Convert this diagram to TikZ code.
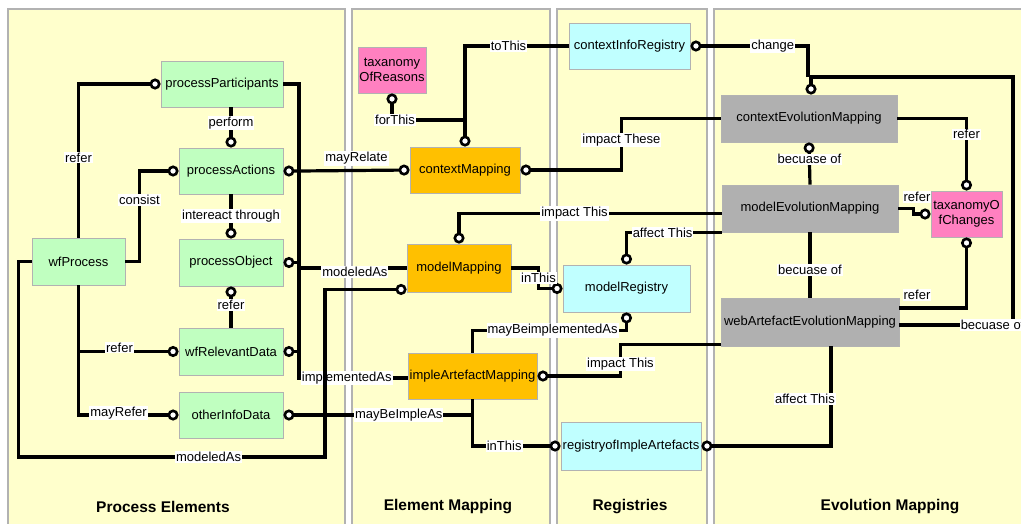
\documentclass[tikz,border=0pt]{standalone}
\usepackage{fontspec}
\setmainfont{Liberation Sans}
\usetikzlibrary{arrows.meta}
\definecolor{panelfill}{RGB}{255,255,204}
\definecolor{procgreen}{RGB}{192,255,192}
\definecolor{maporange}{RGB}{255,192,0}
\definecolor{regcyan}{RGB}{192,255,255}
\definecolor{evogrey}{RGB}{176,176,176}
\definecolor{taxpink}{RGB}{255,128,192}
\begin{document}
\begin{tikzpicture}[x=1pt, y=-1pt, line width=3.2pt,
  ball/.tip={Circle[fill=white,length=11pt,width=11pt,line width=2.6pt]},
  box/.style={draw=black!30, line width=0.9pt, inner sep=0pt, align=center, font=\fontsize{13}{15}\selectfont},
  proc node/.style={box, fill=procgreen, minimum height=46pt},
  map node/.style={box, fill=maporange, minimum height=46pt},
  reg node/.style={box, fill=regcyan, minimum height=47pt},
  evo node/.style={box, fill=evogrey, minimum height=47pt},
  tax node/.style={box, fill=taxpink, minimum height=46pt},
  lbl/.style={fill=white, inner sep=1pt, line width=0pt, font=\fontsize{13}{15}\selectfont},
  panel/.style={draw=black!30, fill=panelfill, line width=1.2pt},
  title/.style={font=\fontsize{15.5}{18}\selectfont\bfseries}]
\useasboundingbox (0,0) rectangle (1021,523);
\clip (0,0) rectangle (1021,523);
% swim lanes
\draw [panel] (8,9) rectangle (345,540);
\draw [panel] (352,9) rectangle (550,540);
\draw [panel] (557,9) rectangle (707,540);
\draw [panel] (714,9) rectangle (1040,540);
\node [title] (tProc) at (163,507) {Process Elements};
\node [title] (tMap) at (448,507) {Element Mapping};
\node [title] (tReg) at (630,507) {Registries};
\node [title] (tEvo) at (890,507) {Evolution Mapping};

% process elements
\node [proc node, minimum width=122pt] (ppart) at (222,84) {processParticipants};
\node [proc node, minimum width=104pt] (pact) at (231,171) {processActions};
\node [proc node, minimum width=104pt, minimum height=47pt] (pobj) at (231,262.5) {processObject};
\node [proc node, minimum width=93pt, minimum height=47pt] (wfproc) at (78.5,261.5) {wfProcess};
\node [proc node, minimum width=104pt, minimum height=47pt] (wfrel) at (231,351.5) {wfRelevantData};
\node [proc node, minimum width=104pt] (other) at (231,415) {otherInfoData};

% element mapping
\node [tax node, minimum width=68pt] (taxr) at (392,70) {taxanomy\\OfReasons};
\node [map node, minimum width=110pt] (cmap) at (465,170) {contextMapping};
\node [map node, minimum width=104pt, minimum height=48pt] (mmap) at (459,268) {modelMapping};
\node [map node, minimum width=129pt] (impl) at (472.5,376) {impleArtefactMapping};

% registries
\node [reg node, minimum width=121pt, minimum height=46pt] (creg) at (629.5,46) {contextInfoRegistry};
\node [reg node, minimum width=127pt] (mreg) at (626.5,288.5) {modelRegistry};
\node [reg node, minimum width=140pt, minimum height=48pt] (rimpl) at (631,446) {registryofImpleArtefacts};

% evolution mapping
\node [evo node, minimum width=176pt] (cevo) at (809,118.5) {contextEvolutionMapping};
\node [evo node, minimum width=176pt] (mevo) at (810,208.5) {modelEvolutionMapping};
\node [tax node, minimum width=71pt] (taxc) at (966.5,214) {taxanomyO\\fChanges};
\node [evo node, minimum width=178pt, minimum height=48pt] (webevo) at (810,322) {webArtefactEvolutionMapping};

\coordinate (bus) at (299,378);
\coordinate (forjoin) at (465,120);
\coordinate (loopcorner) at (325,457);
\coordinate (evoloop) at (1013,77);
\coordinate (evoloopl) at (811,77);

% process elements links
\draw [-ball] (wfproc.north) |- node [lbl, pos=0.26] {refer} (ppart.west);
\draw [-ball] (wfproc.east) -- ++(14,0) |- node [lbl, pos=0.34] {consist} (pact.west);
\draw [-ball] (ppart.south -| pact.north) -- node [lbl, pos=0.39] {perform} (pact.north);
\draw [-ball] (pact.south) -- node [lbl, pos=0.49] {intereact through} (pobj.north);
\draw [-ball] (wfrel.north) -- node [lbl, pos=0.55] {refer} (pobj.south);
\draw [-ball] (wfproc.south) |- node [lbl, pos=0.705, yshift=4pt] {refer} (wfrel.west);
\draw [-ball] (wfproc.south) |- node [lbl, pos=0.7, yshift=2pt] {mayRefer} (other.west);

% bus to the mappings
\draw (ppart.east) -| (bus) -- node [lbl, pos=0.44] {implementedAs} (bus -| impl.west);
\draw [ball-ball] (pact.east) -- (pact.east -| bus) -- node [lbl, pos=0.52, yshift=12pt] {mayRelate} (cmap.west);
\draw [ball-] (pobj.east) -- (pobj.east -| bus) |- node [lbl, pos=0.76, yshift=-4pt] {modeledAs} (mmap.west);
\draw [ball-] (wfrel.east) -- (wfrel.east -| bus);
\draw [ball-] (other.east) -| node [lbl, pos=0.305] {mayBeImpleAs} (impl.south);
\draw [-ball] (wfproc.west) -- ++(-13,0) |- node [lbl, pos=0.81] {modeledAs} (loopcorner) |- ([yshift=3pt]mmap.south west);

% element mapping links
\draw [ball-ball] (taxr.south) |- node [lbl, pos=0.5, xshift=3pt] {forThis} (forjoin) -- (cmap.north);
\draw (creg.west) -| node [lbl, pos=0.29] {toThis} (forjoin);
\draw [ball-] (cmap.east) -- ++(101,0) |- node [lbl, pos=0.29] {impact These} (cevo.west);
\draw [ball-] (mmap.north) |- node [lbl, pos=0.72] {impact This} ([yshift=-5pt]mevo.west);
\draw [-ball] (mmap.east) -- ++(27,0) |- node [lbl, pos=0.25] {inThis} (mreg.west);
\draw [-ball] (impl.north) -- ++(0,-22) -| node [lbl, pos=0.26] {mayBeimplementedAs} (mreg.south);
\draw [ball-] (impl.east) -- ++(83,0) |- node [lbl, pos=0.19] {impact This} ([yshift=2pt]webevo.south west);
\draw [-ball] (impl.south) |- node [lbl, pos=0.68] {inThis} (rimpl.west);

% registries links
\draw [ball-] (creg.east) -| node [lbl, pos=0.35] {change} ([xshift=-3pt]evoloopl);
\draw [ball-] (mreg.north) |- node [lbl, pos=0.69] {affect This} (mevo.south west);
\draw [ball-] (rimpl.east) -| node [lbl, pos=0.735, xshift=-26pt] {affect This} ([xshift=21pt]webevo.south);

% evolution mapping links
\draw [ball-] (cevo.south) -- node [lbl, pos=0.4] {becuase of} (mevo.north);
\draw [-ball] (cevo.east) -| node [lbl, pos=0.61] {refer} (taxc.north);
\draw [-ball] (mevo.east) -- ++(15,0) |- (taxc.west) node [lbl, at={(917,197)}] {refer};
\draw (mevo.south) -- node [lbl, pos=0.58] {becuase of} (webevo.north);
\draw [-ball] ([yshift=14pt]webevo.east) -| (taxc.south) node [lbl, at={(917,295)}] {refer};
\draw [-ball] ([yshift=-3pt]webevo.east) -| node [lbl, pos=0.41] {becuase of} (evoloop) -- (evoloopl) -- (evoloopl |- cevo.north);
\end{tikzpicture}
\end{document}
